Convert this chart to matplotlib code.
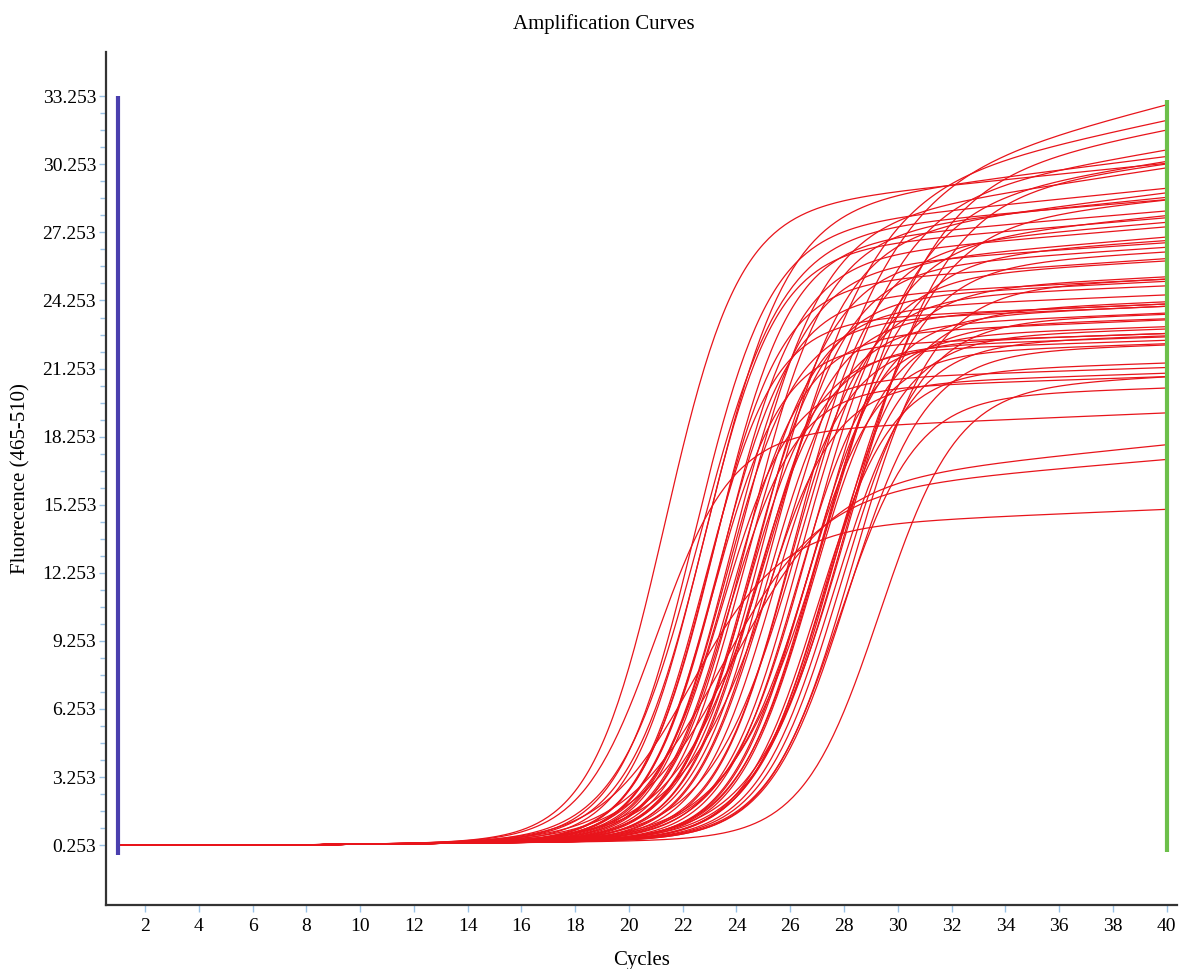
import numpy as np
import matplotlib

matplotlib.use("Agg")
import matplotlib.pyplot as plt
from matplotlib.ticker import FixedLocator

plt.rcParams["font.family"] = ["Liberation Serif", "DejaVu Serif"]

# each curve read off the picture as: midpoint cycle, value at cycle 40,
# steepness of the rise and slow drift in the plateau (per cycle)
ct = [21.3, 21.0,
      22.4, 22.7, 22.8, 22.9, 23.0, 23.1, 23.2, 23.3, 23.4, 23.5, 23.55, 23.65, 23.75, 23.85,
      24.1, 24.2, 24.3, 24.4, 24.5, 24.6, 24.7, 24.8, 24.9, 25.0, 25.1, 25.2, 25.35, 25.5,
      25.9, 26.0, 26.1, 26.2, 26.3, 26.4, 26.5, 26.6, 26.7, 26.8, 26.9, 27.0, 27.1, 27.2, 27.3,
      27.4, 27.5, 27.6, 27.7, 27.8, 27.9, 28.0, 28.1, 28.2, 28.3, 29.3,
      22.3, 23.4, 23.8, 22.6]
plateau = [30.3, 19.3,
           29.2, 27.9, 24.1, 30.6, 26.1, 22.8, 28.2, 25.2, 21.3, 27.5, 24.0, 20.9, 26.8, 23.4,
           30.1, 24.5, 22.5, 28.8, 25.1, 22.65, 27.05, 24.1, 21.05, 29.0, 23.7, 26.6, 22.8, 32.2,
           24.9, 32.9, 27.7, 23.1, 26.0, 22.35, 30.9, 24.0, 28.0, 23.45, 25.3, 21.5, 26.9, 30.4, 23.0,
           24.2, 31.8, 22.7, 26.4, 20.4, 23.65, 28.7, 22.3, 30.3, 25.2, 20.9,
           15.05, 17.25, 17.9, 28.7]
steep = [0.73, 0.72,
         0.72, 0.74, 0.78, 0.68, 0.76, 0.78, 0.73, 0.75, 0.78, 0.73, 0.76, 0.78, 0.73, 0.75,
         0.66, 0.75, 0.76, 0.70, 0.73, 0.75, 0.71, 0.73, 0.75, 0.68, 0.73, 0.70, 0.73, 0.55,
         0.72, 0.52, 0.69, 0.73, 0.70, 0.73, 0.58, 0.72, 0.65, 0.72, 0.70, 0.73, 0.67, 0.58, 0.71,
         0.70, 0.54, 0.70, 0.67, 0.71, 0.69, 0.62, 0.69, 0.58, 0.67, 0.70,
         0.60, 0.55, 0.55, 0.66]
drift = [0.12, 0.05,
         0.12, 0.10, 0.05, 0.15, 0.08, 0.04, 0.10, 0.06, 0.04, 0.10, 0.05, 0.04, 0.08, 0.05,
         0.18, 0.05, 0.04, 0.12, 0.06, 0.04, 0.10, 0.05, 0.04, 0.15, 0.05, 0.08, 0.04, 0.25,
         0.05, 0.30, 0.10, 0.04, 0.07, 0.04, 0.20, 0.05, 0.12, 0.04, 0.06, 0.04, 0.08, 0.18, 0.04,
         0.05, 0.22, 0.04, 0.07, 0.04, 0.04, 0.12, 0.04, 0.15, 0.05, 0.06,
         0.05, 0.10, 0.12, 0.10]
baseline = 0.253
baseline_slope = 0.012

y_ticks = [0.253, 3.253, 6.253, 9.253, 12.253, 15.253, 18.253, 21.253, 24.253, 27.253, 30.253, 33.253]
x_ticks = list(range(2, 41, 2))

fig = plt.figure(figsize=(11.84, 9.69), dpi=100)
ax = fig.add_axes([0.0895, 0.066, 0.9045, 0.880])

cycles = np.linspace(1, 40, 391)
for c, p, k, d in zip(ct, plateau, steep, drift):
    rise = 1.0 / (1.0 + np.exp(-k * (cycles - c)))
    base = baseline + baseline_slope * np.clip(cycles - 7, 0, None) * (1 - rise)
    values = base + (p - baseline - d * (40 - cycles)) * rise
    ax.plot(cycles, values, color="#e8141b", linewidth=0.9)

ax.plot([1, 1], [-0.19, 33.253], color="#4a3fae", linewidth=3, solid_capstyle="butt")
ax.plot([40, 40], [-0.06, 33.07], color="#6cbf4a", linewidth=3, solid_capstyle="butt")

ax.set_xlim(0.55, 40.38)
ax.set_ylim(-2.39, 35.19)
ax.set_xticks(x_ticks)
ax.set_yticks(y_ticks)
ax.set_yticklabels([f"{v:.3f}" for v in y_ticks])
ax.yaxis.set_minor_locator(FixedLocator(np.arange(0.253, 33.3, 0.75)))

for side in ("top", "right"):
    ax.spines[side].set_visible(False)
for side in ("left", "bottom"):
    ax.spines[side].set_color("#333333")
    ax.spines[side].set_linewidth(1.6)

ax.tick_params(axis="both", which="major", direction="out", length=5, width=1,
               color="#9cc3e6", labelsize=14, labelcolor="black", pad=2)
ax.tick_params(axis="y", which="minor", direction="out", length=4, width=1, color="#9cc3e6")
ax.tick_params(axis="x", which="major", pad=4)

ax.set_xlabel("Cycles", fontsize=15, labelpad=12)
ax.set_ylabel("Fluorecence (465-510)", fontsize=15, labelpad=9)
fig.text(0.51, 0.975, "Amplification Curves", ha="center", va="center", fontsize=15)

fig.savefig("out.png")
